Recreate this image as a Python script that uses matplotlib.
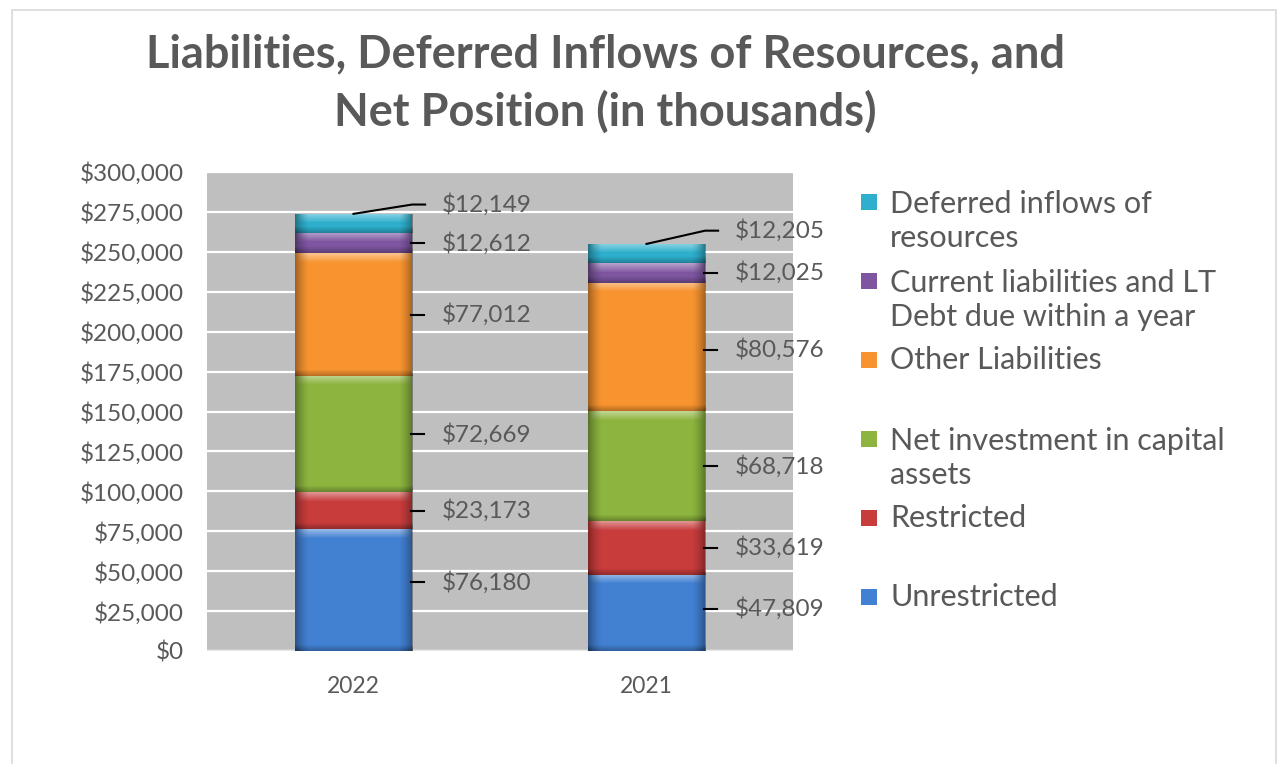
import numpy as np
import matplotlib.pyplot as plt
from matplotlib.patches import Rectangle
from matplotlib.transforms import offset_copy

plt.rcParams['font.family'] = ['Lato', 'DejaVu Sans']

years = ["2022", "2021"]
series = ["Unrestricted", "Restricted", "Net investment in capital assets",
          "Other Liabilities", "Current liabilities and LT Debt due within a year",
          "Deferred inflows of resources"]
legend_text = ["Unrestricted", "Restricted", "Net investment in capital\nassets",
               "Other Liabilities", "Current liabilities and LT\nDebt due within a year",
               "Deferred inflows of\nresources"]
unrestricted = [76180, 47809]
restricted = [23173, 33619]
net_investment = [72669, 68718]
other_liab = [77012, 80576]
current_liab = [12612, 12025]
deferred = [12149, 12205]
values = [unrestricted, restricted, net_investment, other_liab, current_liab, deferred]
colors = ["#4280D2", "#C83C3C", "#8CB43E", "#F89430", "#7D55A0", "#2DAFCD"]

txt = "#595959"

fig = plt.figure(figsize=(12.88, 7.64), dpi=100)
fig.patches.append(Rectangle((12/1288, -0.01), 1264/1288, 1 - 10/764 + 0.01,
                             transform=fig.transFigure, fill=False,
                             edgecolor="#D9D9D9", lw=1.2))
ax = fig.add_axes([207/1288, 1 - 651/764, 586/1288, 479/764])
ax.set_facecolor("#BFBFBF")
ax.set_xlim(-0.5, 1.5)
ax.set_ylim(0, 300000)
ax.set_yticks(np.arange(0, 300001, 25000))
ax.yaxis.grid(True, color="white", lw=1.6)
ax.set_axisbelow(True)
for s in ax.spines.values():
    s.set_visible(False)
ax.tick_params(axis="y", length=0, labelsize=17.5, colors=txt, pad=17)
ax.tick_params(axis="x", length=0, labelsize=16.5, colors=txt, pad=18)
ax.set_yticklabels([f"${v:,.0f}" for v in np.arange(0, 300001, 25000)])
ax.axhline(0, color="#E6E6E6", lw=2.5, zorder=1)

x = np.arange(len(years))
width = 0.4
bottom = np.zeros(len(years))


def shade(patch):
    # fake bevel: darker sides, light strip at the top
    bx, by = patch.get_x(), patch.get_y()
    bw, bh = patch.get_width(), patch.get_height()
    p0 = ax.transData.transform((bx, by))
    p1 = ax.transData.transform((bx + bw, by + bh))
    wpx = max(int(p1[0] - p0[0]), 2)
    hpx = max(int(p1[1] - p0[1]), 2)
    img = np.zeros((hpx, wpx, 4))
    cx = np.linspace(0, 1, wpx)
    side = np.clip(1 - np.minimum(cx, 1 - cx) / 0.12, 0, 1) ** 1.5
    img[:, :, 3] = 0.35 * side[None, :]
    top = np.clip(1 - np.arange(hpx) / 9.0, 0, 1)
    hl = 0.45 * top[:, None] * (1 - side[None, :])
    img[:, :, :3] = hl[:, :, None] / np.maximum(hl[:, :, None] + img[:, :, 3:4], 1e-6)
    img[:, :, 3] = np.clip(img[:, :, 3] + hl, 0, 1)
    bot = np.clip(1 - np.arange(hpx)[::-1] / 6.0, 0, 1)
    img[:, :, 3] = np.clip(img[:, :, 3] + 0.25 * bot[:, None], 0, 1)
    im = ax.imshow(img, extent=(bx, bx + bw, by, by + bh), aspect="auto",
                   origin="upper", zorder=3, interpolation="bilinear")
    im.set_clip_path(patch)


ppu = 479 / 300000  # pixels per dollar on the y axis
nudge = [[8, 4], [0, 0], [0, 0], [0, -3], [0, 0], [19, 23]]
inv = ax.transData.inverted()

for i, (vals, c) in enumerate(zip(values, colors)):
    bars = ax.bar(x, vals, width, bottom=bottom, color=c, zorder=2, label=series[i])
    for j, b in enumerate(bars):
        shade(b)
        edge = x[j] + width / 2
        mid = bottom[j] + vals[j] / 2
        ly = mid + nudge[i][j] / ppu
        e = ax.transData.transform((edge, ly))
        if i == len(values) - 1:
            k = ax.transData.transform((x[j], bottom[j] + vals[j]))
            pts = inv.transform([[k[0], k[1]], [e[0], e[1]], [e[0] + 13, e[1]]])
        else:
            pts = inv.transform([[e[0] - 1, e[1]], [e[0] + 12, e[1]]])
        ax.plot(pts[:, 0], pts[:, 1], color="black", lw=1.5, zorder=5)
        tt = offset_copy(ax.transData, fig=fig, x=30, y=0, units="dots")
        ax.text(edge, ly, f"${vals[j]:,.0f}", transform=tt, fontsize=17.5,
                color=txt, va="center", ha="left", zorder=6, clip_on=False)
    bottom += np.array(vals)

ax.set_xticks(x)
ax.set_xticklabels(years)

fig.text(605/1288, 1 - 84/764,
         "Liabilities, Deferred Inflows of Resources, and\nNet Position (in thousands)",
         ha="center", va="center", fontsize=32.5, fontweight="bold", color=txt,
         linespacing=1.42)

# legend, drawn by hand, top entry first
slot = 79
for k, idx in enumerate(range(len(series) - 1, -1, -1)):
    ytop = 202 + k * slot
    nl = legend_text[idx].count("\n")
    fig.patches.append(Rectangle((861/1288, 1 - (ytop + 8)/764), 16/1288, 16/764,
                                 transform=fig.transFigure, facecolor=colors[idx],
                                 edgecolor="none"))
    fig.text(890/1288, 1 - (ytop + nl * 19)/764, legend_text[idx], ha="left",
             va="center", fontsize=22, color=txt, linespacing=1.3)

fig.savefig("out.png", dpi=100)
